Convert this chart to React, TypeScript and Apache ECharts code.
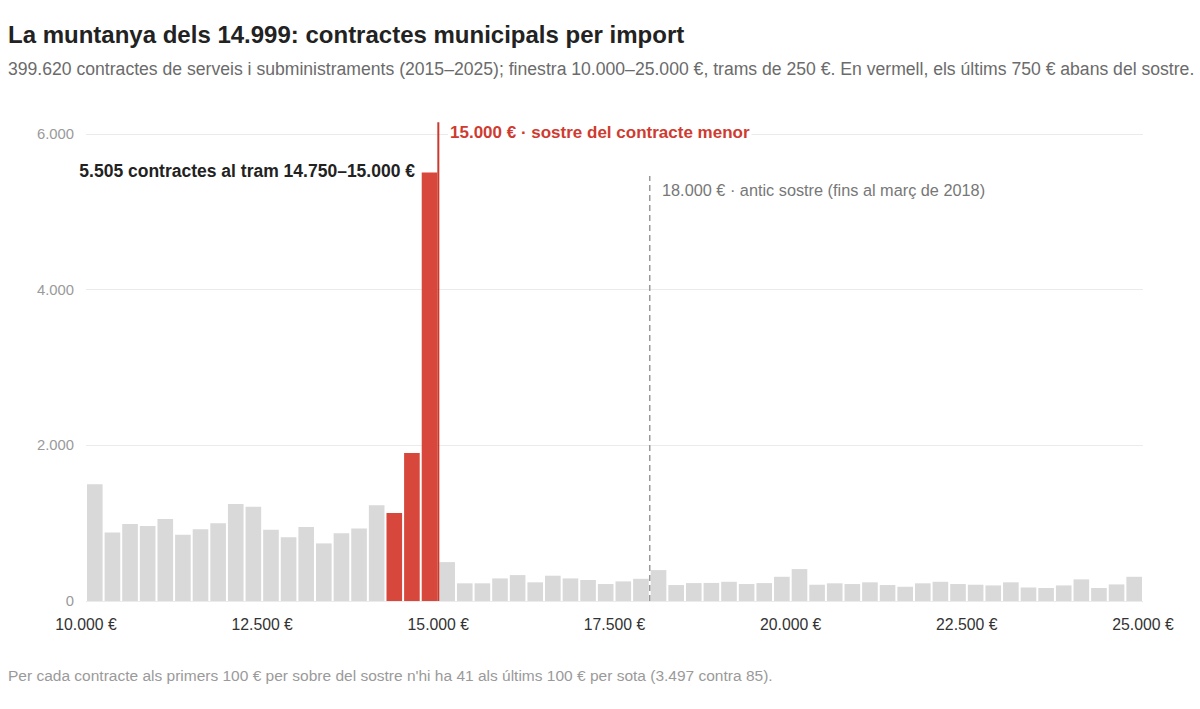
import React, { useEffect, useRef } from "react";
import * as echarts from "echarts";

const binStart = 10000;
const binWidth = 250;
const counts: number[] = [
  1500, 880, 990, 965, 1055, 850, 923, 1000, 1245, 1210,
  915, 820, 950, 740, 872, 932, 1230, 1130, 1900, 5505,
  500, 227, 227, 290, 333, 240, 325, 290, 270, 218,
  252, 285, 397, 205, 230, 232, 247, 218, 230, 311,
  410, 209, 227, 218, 240, 205, 183, 227, 247, 218,
  209, 200, 240, 175, 167, 200, 278, 167, 213, 311,
];
const highlightFrom = 14250;
const ceilingValue = 15000;
const ceilingLineTop = 6150;
const oldCeilingValue = 18000;
const oldCeilingLineTop = 5460;
const xTicks = { min: 10000, max: 25000, interval: 2500 };
const yTicks = { min: 0, max: 6000, interval: 2000 };

const titleText = "La muntanya dels 14.999: contractes municipals per import";
const subtitleText =
  "399.620 contractes de serveis i subministraments (2015–2025); finestra 10.000–25.000 €, trams de 250 €. En vermell, els últims 750 € abans del sostre.";
const footerText =
  "Per cada contracte als primers 100 € per sobre del sostre n'hi ha 41 als últims 100 € per sota (3.497 contra 85).";
const peakLabel = "5.505 contractes al tram 14.750–15.000 €";
const ceilingLabel = "15.000 € · sostre del contracte menor";
const oldCeilingLabel = "18.000 € · antic sostre (fins al març de 2018)";

const FONT = "'Liberation Sans', Arial, Helvetica, sans-serif";
const GREY = "#d9d9d9";
const RED = "#d8473b";
const RED_LINE = "#c9392e";

const fmt = (n: number) => String(n).replace(/\B(?=(\d{3})+(?!\d))/g, ".");

export default function App() {
  const ref = useRef<HTMLDivElement>(null);
  useEffect(() => {
    if (!ref.current) return;
    const chart = echarts.init(ref.current, null, { renderer: "svg" });
    const data = counts.map((c, i) => {
      const s = binStart + i * binWidth;
      return [s, s + binWidth, c, s >= highlightFrom && s < ceilingValue ? 1 : 0];
    });
    chart.setOption({
      animation: false,
      backgroundColor: "#ffffff",
      textStyle: { fontFamily: FONT },
      title: [
        {
          text: titleText,
          left: 8,
          top: 22,
          padding: 0,
          textStyle: { fontFamily: FONT, fontSize: 24, fontWeight: "bold", color: "#222222" },
        },
        {
          text: subtitleText,
          left: 8,
          top: 60,
          padding: 0,
          textStyle: { fontFamily: FONT, fontSize: 17.6, fontWeight: "normal", color: "#6b6b6b" },
        },
        {
          text: footerText,
          left: 8,
          top: 667,
          padding: 0,
          textStyle: { fontFamily: FONT, fontSize: 15.5, fontWeight: "normal", color: "#9a9a9a" },
        },
      ],
      grid: { left: 86, right: 57, top: 134, bottom: 108, containLabel: false },
      xAxis: {
        type: "value",
        min: xTicks.min,
        max: xTicks.max,
        interval: xTicks.interval,
        axisLine: { show: false },
        axisTick: { show: false },
        splitLine: { show: false },
        axisLabel: {
          color: "#333333",
          fontSize: 15.8,
          fontFamily: FONT,
          margin: 15,
          formatter: (v: number) => fmt(v) + " €",
        },
      },
      yAxis: {
        type: "value",
        min: yTicks.min,
        max: yTicks.max,
        interval: yTicks.interval,
        axisLine: { show: false },
        axisTick: { show: false },
        splitLine: { show: true, lineStyle: { color: "#ebebeb", width: 1 } },
        axisLabel: {
          color: "#9a9a9a",
          fontSize: 14.8,
          fontFamily: FONT,
          margin: 12,
          formatter: (v: number) => fmt(v),
        },
      },
      series: [
        {
          type: "custom",
          silent: true,
          data,
          encode: { x: [0, 1], y: 2 },
          renderItem: (params: any, api: any) => {
            const x0 = api.value(0);
            const x1 = api.value(1);
            const v = api.value(2);
            const red = api.value(3) === 1;
            const pTop = api.coord([x0, v]);
            const pBot = api.coord([x1, 0]);
            return {
              type: "rect",
              shape: {
                x: pTop[0] + 1,
                y: pTop[1],
                width: pBot[0] - pTop[0] - 2,
                height: pBot[1] - pTop[1],
              },
              style: { fill: red ? RED : GREY },
            };
          },
        },
        {
          type: "line",
          silent: true,
          clip: false,
          symbol: "none",
          data: [
            [ceilingValue, 0],
            [ceilingValue, ceilingLineTop],
          ],
          lineStyle: { color: RED_LINE, width: 2 },
          z: 5,
        },
        {
          type: "line",
          silent: true,
          clip: false,
          symbol: "none",
          data: [
            [oldCeilingValue, 0],
            [oldCeilingValue, oldCeilingLineTop],
          ],
          lineStyle: { color: "#999999", width: 1.5, type: [6, 4] },
          z: 5,
        },
      ],
      graphic: [
        {
          type: "text",
          right: 1200 - 415,
          top: 162,
          style: {
            text: peakLabel,
            font: `bold 17.5px ${FONT}`,
            fill: "#222222",
          },
        },
        {
          type: "text",
          left: 448,
          top: 124,
          z: 100,
          style: {
            text: ceilingLabel,
            font: `bold 17px ${FONT}`,
            fill: "#cf3b30",
            backgroundColor: "#ffffff",
            padding: [0, 2],
          },
        },
        {
          type: "text",
          left: 662,
          top: 182,
          style: {
            text: oldCeilingLabel,
            font: `16.3px ${FONT}`,
            fill: "#777777",
          },
        },
      ],
    });
    return () => chart.dispose();
  }, []);
  return (
    <div
      ref={ref}
      style={{ position: "absolute", left: 0, top: 0, width: 1200, height: 709 }}
    />
  );
}
